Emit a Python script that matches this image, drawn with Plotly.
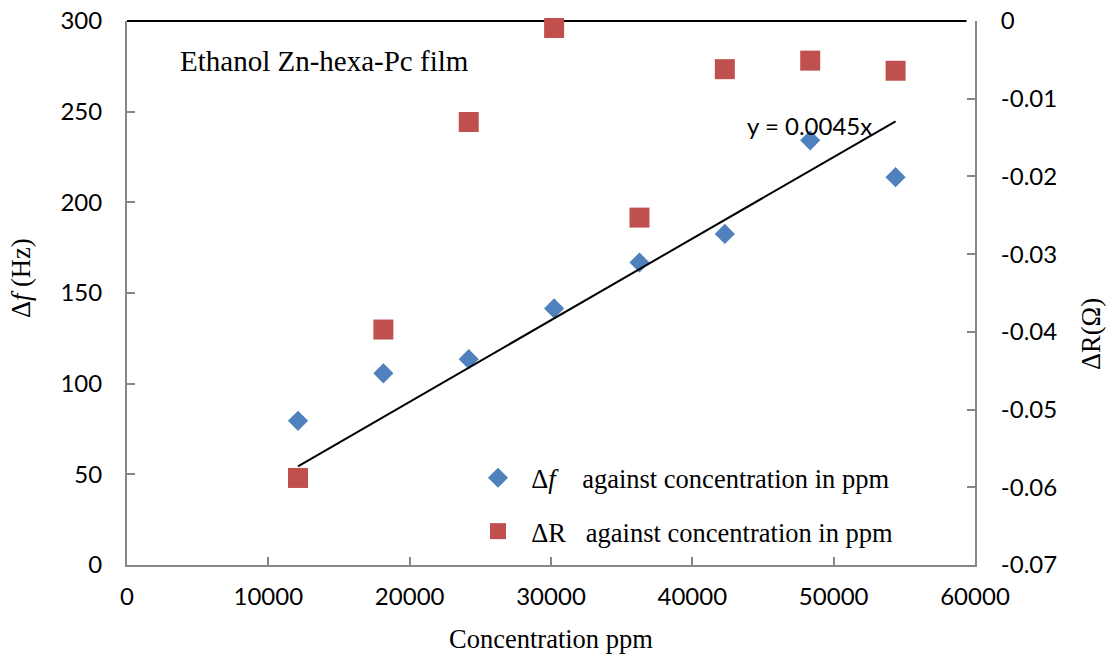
import plotly.graph_objects as go
import numpy as np

# ---- data ----
conc_ppm = [12100, 18140, 24180, 30220, 36260, 42300, 48340, 54380]
delta_f_hz = [79.5, 105.7, 113.5, 141.5, 166.8, 182.6, 234.2, 213.9]
delta_r_ohm = [-0.0588, -0.0397, -0.0130, -0.0009, -0.0253, -0.0062, -0.0051, -0.0064]
trend_slope = 0.0045

x_ticks = [0, 10000, 20000, 30000, 40000, 50000, 60000]
y_ticks = [0, 50, 100, 150, 200, 250, 300]
y2_tickvals = [0, -0.01, -0.02, -0.03, -0.04, -0.05, -0.06, -0.07]
y2_ticktext = ["0", "-0.01", "-0.02", "-0.03", "-0.04", "-0.05", "-0.06", "-0.07"]

# ---- layout geometry ----
W, H = 1112, 656
L, R, T, B = 127, 137, 21, 91
PW, PH = W - L - R, H - T - B

def px(xpix):
    return (xpix - L) / PW

def py(ypix):
    return (H - B - ypix) / PH

SERIF = "Liberation Serif, Times New Roman, serif"
SANS = "Lato, Carlito, Calibri, sans-serif"
AXIS_GRAY = "#868686"
BLUE = "#4F81BD"
RED = "#C0504D"

trend_x = np.array([conc_ppm[0], conc_ppm[-1]])
trend_y = trend_slope * trend_x

nb = "\u00a0"
fig = go.Figure()
fig.add_trace(go.Scatter(
    x=conc_ppm, y=delta_f_hz, mode="markers",
    marker=dict(symbol="diamond", size=15.5, color=BLUE),
    name=nb * 2 + "Δ<i>f</i>" + nb * 4 + "against concentration in ppm",
    legendgroup="a", cliponaxis=False,
))
fig.add_trace(go.Scatter(
    x=conc_ppm, y=delta_r_ohm, mode="markers", yaxis="y2",
    marker=dict(symbol="square", size=20, color=RED),
    name=nb * 2 + "ΔR" + nb * 3 + "against concentration in ppm",
    legendgroup="b", cliponaxis=False,
))
fig.add_trace(go.Scatter(
    x=trend_x, y=trend_y, mode="lines",
    line=dict(color="black", width=2),
    showlegend=False, cliponaxis=False,
))

axis_common = dict(
    showline=True, linecolor=AXIS_GRAY, linewidth=2,
    ticks="inside", ticklen=8, tickwidth=2, tickcolor=AXIS_GRAY,
    showgrid=False, zeroline=False, automargin=False,
    tickfont=dict(family=SANS, size=24, color="black"),
)

fig.update_layout(
    width=W, height=H,
    margin=dict(l=L, r=R, t=T, b=B, autoexpand=False),
    paper_bgcolor="white", plot_bgcolor="white",
    xaxis=dict(range=[0, 60000], tickvals=x_ticks, tickformat="d",
               ticklabelstandoff=9, **axis_common),
    yaxis=dict(range=[0, 300], tickvals=y_ticks,
               ticklabelstandoff=18, **axis_common),
    yaxis2=dict(range=[-0.07, 0], tickvals=y2_tickvals, ticktext=y2_ticktext,
                overlaying="y", side="right",
                ticklabelstandoff=19, **axis_common),
    showlegend=True,
    legend=dict(
        x=px(478), y=py(454), xanchor="left", yanchor="top",
        font=dict(family=SERIF, size=26.5, color="black"),
        bgcolor="rgba(0,0,0,0)", tracegroupgap=16,
    ),
    shapes=[dict(type="line", xref="paper", yref="paper",
                 x0=0, x1=0.99, y0=1, y1=1,
                 line=dict(color="black", width=2), layer="below")],
    annotations=[
        dict(text="Ethanol Zn-hexa-Pc film", xref="paper", yref="paper",
             x=px(178), y=py(61), xanchor="left", yanchor="middle",
             showarrow=False, font=dict(family=SERIF, size=29, color="black")),
        dict(text="y = 0.0045x", xref="paper", yref="paper",
             x=px(809), y=py(125), xanchor="center", yanchor="middle",
             showarrow=False, font=dict(family=SANS, size=24, color="black")),
        dict(text="Concentration ppm", xref="paper", yref="paper",
             x=px(551), y=py(639), xanchor="center", yanchor="middle",
             showarrow=False, font=dict(family=SERIF, size=26.5, color="black")),
        dict(text="Δ<i>f</i> (Hz)", xref="paper", yref="paper",
             x=px(21), y=py(278), xanchor="center", yanchor="middle",
             textangle=-90, showarrow=False,
             font=dict(family=SERIF, size=26.5, color="black")),
        dict(text="ΔR(Ω)", xref="paper", yref="paper",
             x=px(1091), y=py(334), xanchor="center", yanchor="middle",
             textangle=-90, showarrow=False,
             font=dict(family=SERIF, size=26.5, color="black")),
    ],
)

fig.write_html(
    "out.html",
    config={"displayModeBar": False},
    post_script="document.body.style.margin='0';document.body.style.overflow='hidden';",
)
